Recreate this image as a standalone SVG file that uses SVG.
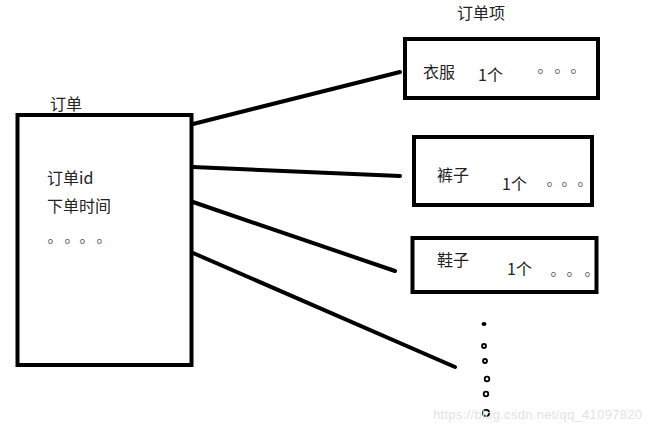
<svg xmlns="http://www.w3.org/2000/svg" width="650" height="428" viewBox="0 0 650 428">
<style>
.box{fill:#fff;stroke:#000;stroke-width:4}
.t{font-family:"Noto Sans CJK SC","Liberation Sans",sans-serif;font-size:16px;fill:#222}
.d{font-family:"Noto Sans CJK SC","Liberation Sans",sans-serif;font-size:15px;fill:#555}
.c{stroke:#000;stroke-width:4;stroke-linecap:round;fill:none}
.dot{fill:none;stroke:#000;stroke-width:1.8}
.wm{font-family:"Liberation Sans",sans-serif;font-size:13px;fill:#e2e2e2}
</style>
<rect width="650" height="428" fill="#fff"/>
<g id="connectors">
<line class="c" x1="193" y1="124" x2="400" y2="72"/>
<line class="c" x1="193" y1="167" x2="400" y2="176"/>
<line class="c" x1="193" y1="202" x2="395" y2="271"/>
<line class="c" x1="193" y1="253" x2="455" y2="367"/>
</g>
<g id="order">
<text class="t" x="50" y="110">订单</text>
<rect class="box" x="17.5" y="115" width="174" height="250"/>
<text class="t" x="47" y="184">订单id</text>
<text class="t" x="47" y="212">下单时间</text>
<text class="d" x="47.5 64.5 79.5 96.5" y="242">。。。。</text>
</g>
<g id="item-label">
<text class="t" x="457" y="19">订单项</text>
</g>
<g id="item-clothes">
<rect class="box" x="405" y="39" width="193" height="59"/>
<text class="t" x="423" y="78">衣服</text>
<text class="t" x="478" y="81">1个</text>
<text class="d" x="537.5 554.5 570.5" y="72">。。。</text>
</g>
<g id="item-pants">
<rect class="box" x="414" y="137" width="178" height="68"/>
<text class="t" x="437" y="181">裤子</text>
<text class="t" x="502" y="190">1个</text>
<text class="d" x="546.5 561.5 577.5" y="185">。。。</text>
</g>
<g id="item-shoes">
<rect class="box" x="412.5" y="238" width="184" height="54"/>
<text class="t" x="437" y="266">鞋子</text>
<text class="t" x="507" y="275">1个</text>
<text class="d" x="550.5 566.5 584.5" y="275">。。。</text>
</g>
<g id="more">
<ellipse cx="484" cy="324" rx="2.5" ry="2" fill="#000"/>
<circle class="dot" cx="484" cy="346" r="2"/>
<circle class="dot" cx="485" cy="361" r="2"/>
<circle class="dot" cx="487" cy="379" r="2.3"/>
<circle class="dot" cx="486" cy="394" r="2.3" fill="#000"/>
<circle class="dot" cx="486" cy="413" r="3.2" stroke-width="2.4"/>
</g>
<text class="wm" x="433" y="419" textLength="209">https://blog.csdn.net/qq_41097820</text>
</svg>
